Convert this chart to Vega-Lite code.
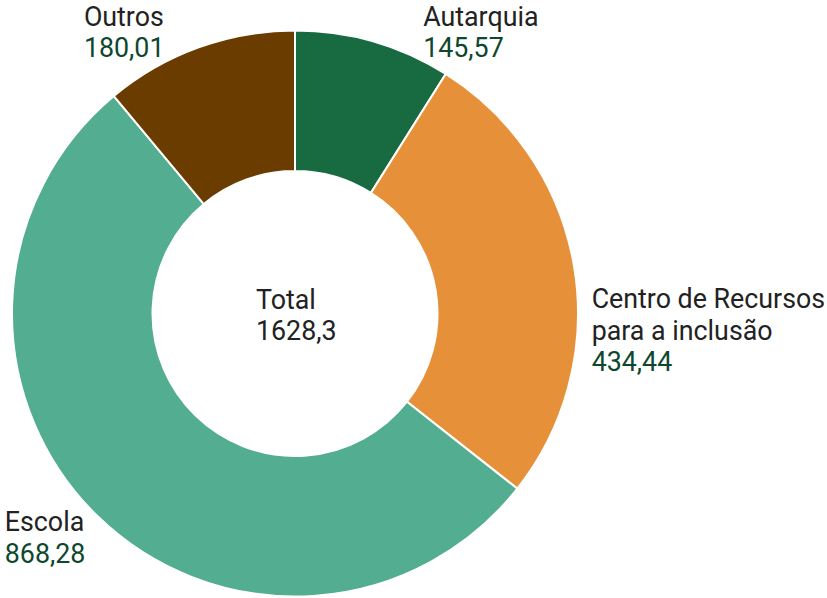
{
  "$schema": "https://vega.github.io/schema/vega-lite/v6.json",
  "width": 590,
  "height": 627,
  "autosize": "none",
  "padding": {"left": 0, "top": 0, "right": 237, "bottom": 0},
  "background": "white",
  "data": {
    "values": [
      {"categoria": "Autarquia", "rotulo": "Autarquia", "valor": 145.57},
      {"categoria": "Centro de Recursos para a inclusão", "rotulo": "Centro de Recursos\npara a inclusão", "valor": 434.44},
      {"categoria": "Escola", "rotulo": "Escola", "valor": 868.28},
      {"categoria": "Outros", "rotulo": "Outros", "valor": 180.01}
    ]
  },
  "layer": [
    {
      "mark": {"type": "arc", "innerRadius": 142.5, "outerRadius": 283, "stroke": "white", "strokeWidth": 2},
      "encoding": {
        "theta": {"field": "valor", "type": "quantitative", "stack": true},
        "order": {"field": "categoria", "type": "ordinal", "sort": "ascending"},
        "color": {
          "field": "categoria", "type": "nominal", "legend": null,
          "scale": {
            "domain": ["Autarquia", "Centro de Recursos para a inclusão", "Escola", "Outros"],
            "range": ["#186b40", "#e6913a", "#52ad91", "#6b3c00"]
          }
        }
      }
    },
    {
      "mark": {"type": "text", "radius": 300, "align": "left", "baseline": "alphabetic", "dx": 45, "dy": 1, "font": "Roboto", "fontSize": 26.8, "color": "#222222", "lineBreak": "\n", "lineHeight": 31.5},
      "encoding": {
        "theta": {"field": "valor", "type": "quantitative", "stack": true},
        "order": {"field": "categoria", "type": "ordinal", "sort": "ascending"},
        "text": {"field": "rotulo", "type": "nominal", "condition": {"test": "datum.categoria !== 'Autarquia'", "value": ""}}
      }
    },
    {
      "mark": {"type": "text", "radius": 300, "align": "left", "baseline": "alphabetic", "dx": 45, "dy": 32, "font": "Roboto", "fontSize": 26.8, "color": "#0d472e"},
      "encoding": {
        "theta": {"field": "valor", "type": "quantitative", "stack": true},
        "order": {"field": "categoria", "type": "ordinal", "sort": "ascending"},
        "text": {"field": "valor", "type": "quantitative", "format": ".6~g", "condition": {"test": "datum.categoria !== 'Autarquia'", "value": ""}}
      }
    },
    {
      "mark": {"type": "text", "radius": 300, "align": "left", "baseline": "alphabetic", "dx": 1, "dy": 46, "font": "Roboto", "fontSize": 26.8, "color": "#222222", "lineBreak": "\n", "lineHeight": 31.5},
      "encoding": {
        "theta": {"field": "valor", "type": "quantitative", "stack": true},
        "order": {"field": "categoria", "type": "ordinal", "sort": "ascending"},
        "text": {"field": "rotulo", "type": "nominal", "condition": {"test": "datum.categoria !== 'Centro de Recursos para a inclusão'", "value": ""}}
      }
    },
    {
      "mark": {"type": "text", "radius": 300, "align": "left", "baseline": "alphabetic", "dx": 1, "dy": 109, "font": "Roboto", "fontSize": 26.8, "color": "#0d472e"},
      "encoding": {
        "theta": {"field": "valor", "type": "quantitative", "stack": true},
        "order": {"field": "categoria", "type": "ordinal", "sort": "ascending"},
        "text": {"field": "valor", "type": "quantitative", "format": ".6~g", "condition": {"test": "datum.categoria !== 'Centro de Recursos para a inclusão'", "value": ""}}
      }
    },
    {
      "mark": {"type": "text", "radius": 300, "align": "left", "baseline": "alphabetic", "dx": -81, "dy": 2, "font": "Roboto", "fontSize": 26.8, "color": "#222222", "lineBreak": "\n", "lineHeight": 31.5},
      "encoding": {
        "theta": {"field": "valor", "type": "quantitative", "stack": true},
        "order": {"field": "categoria", "type": "ordinal", "sort": "ascending"},
        "text": {"field": "rotulo", "type": "nominal", "condition": {"test": "datum.categoria !== 'Escola'", "value": ""}}
      }
    },
    {
      "mark": {"type": "text", "radius": 300, "align": "left", "baseline": "alphabetic", "dx": -81, "dy": 34, "font": "Roboto", "fontSize": 26.8, "color": "#0d472e"},
      "encoding": {
        "theta": {"field": "valor", "type": "quantitative", "stack": true},
        "order": {"field": "categoria", "type": "ordinal", "sort": "ascending"},
        "text": {"field": "valor", "type": "quantitative", "format": ".6~g", "condition": {"test": "datum.categoria !== 'Escola'", "value": ""}}
      }
    },
    {
      "mark": {"type": "text", "radius": 300, "align": "left", "baseline": "alphabetic", "dx": -109, "dy": -5, "font": "Roboto", "fontSize": 26.8, "color": "#222222", "lineBreak": "\n", "lineHeight": 31.5},
      "encoding": {
        "theta": {"field": "valor", "type": "quantitative", "stack": true},
        "order": {"field": "categoria", "type": "ordinal", "sort": "ascending"},
        "text": {"field": "rotulo", "type": "nominal", "condition": {"test": "datum.categoria !== 'Outros'", "value": ""}}
      }
    },
    {
      "mark": {"type": "text", "radius": 300, "align": "left", "baseline": "alphabetic", "dx": -109, "dy": 26, "font": "Roboto", "fontSize": 26.8, "color": "#0d472e"},
      "encoding": {
        "theta": {"field": "valor", "type": "quantitative", "stack": true},
        "order": {"field": "categoria", "type": "ordinal", "sort": "ascending"},
        "text": {"field": "valor", "type": "quantitative", "format": ".6~g", "condition": {"test": "datum.categoria !== 'Outros'", "value": ""}}
      }
    },
    {
      "transform": [{"aggregate": [{"op": "sum", "field": "valor", "as": "total"}]}],
      "mark": {"type": "text", "align": "left", "baseline": "alphabetic", "dx": -39, "dy": -5, "font": "Roboto", "fontSize": 26.8, "color": "#222222"},
      "encoding": {"text": {"value": "Total"}}
    },
    {
      "transform": [{"aggregate": [{"op": "sum", "field": "valor", "as": "total"}]}],
      "mark": {"type": "text", "align": "left", "baseline": "alphabetic", "dx": -39, "dy": 26.5, "font": "Roboto", "fontSize": 26.8, "color": "#222222"},
      "encoding": {"text": {"field": "total", "type": "quantitative", "format": ".6~g"}}
    }
  ],
  "config": {
    "view": {"stroke": null},
    "locale": {"number": {"decimal": ",", "thousands": ".", "grouping": [3], "currency": ["", ""]}}
  }
}
